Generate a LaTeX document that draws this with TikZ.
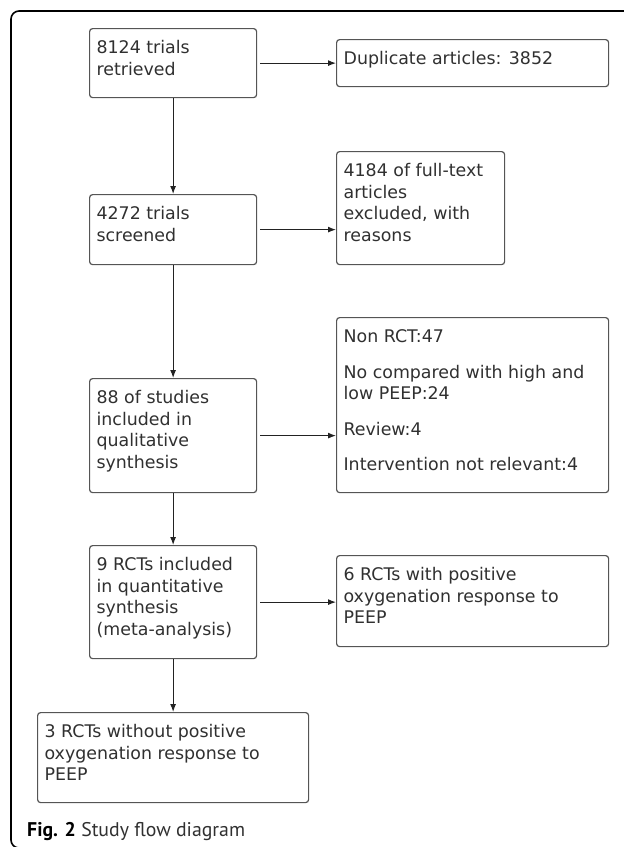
\documentclass[tikz,border=0pt]{standalone}
\usepackage{fontspec}
\setmainfont{DejaVu Sans}
\newfontfamily\capfont{PT Sans}
\usetikzlibrary{arrows.meta}
\definecolor{boxgray}{HTML}{555555}
\definecolor{txtgray}{HTML}{303030}
\definecolor{linegray}{HTML}{222222}
% text of a box: width, height, lines
\newcommand{\flowtext}[3]{\parbox[c][#2pt][t]{#1pt}{\vspace*{10pt}\hspace*{7pt}%
\parbox[t]{\dimexpr#1pt-14pt\relax}{\fontsize{17.4}{21.5}\selectfont
\setlength{\parskip}{14pt}\raggedright\strut #3}}}
\tikzset{
  flowbox/.style={draw=boxgray, line width=1.2pt, rounded corners=3pt,
    inner sep=0pt, anchor=north west, text=txtgray},
  flowarrow/.style={draw=linegray, line width=1.1pt, -{Latex[length=8pt,width=6pt]}},
  sidearrow/.style={flowarrow, shorten <=3pt}
}
\begin{document}
\begin{tikzpicture}[x=1pt,y=-1pt]
\useasboundingbox (0,0) rectangle (624,847);
% frame
\draw[line width=1.6pt, rounded corners=8pt] (640,11)--(11,11)--(11,848)--(40,848);
% main column
\node[flowbox] (retr) at (89,28) {\flowtext{167}{69}{8124 trials\\retrieved}};
\node[flowbox] (scrn) at (89,194) {\flowtext{167}{70}{4272 trials\\screened}};
\node[flowbox] (qual) at (89,378) {\flowtext{167}{114}{88 of studies\\included in\\qualitative\\synthesis}};
\node[flowbox] (quant) at (89,545) {\flowtext{167}{113}{9 RCTs included\\in quantitative\\synthesis\\(meta-analysis)}};
\node[flowbox] (neg) at (37,712) {\flowtext{271}{90}{3 RCTs without positive\\oxygenation response to\\PEEP}};
% side boxes
\node[flowbox] (dup) at (336,39) {\flowtext{272}{47}{Duplicate articles: 3852}};
\node[flowbox] (excl) at (336,151) {\flowtext{168}{113}{4184 of full-text\\articles\\excluded, with\\reasons}};
\node[flowbox] (reas) at (336,317) {\flowtext{272}{175}{Non RCT:47\par
No compared with high and\\low PEEP:24\par
Review:4\par
Intervention not relevant:4}};
\node[flowbox] (pos) at (336,555) {\flowtext{272}{91}{6 RCTs with positive\\oxygenation response to\\PEEP}};
% connectors
\draw[flowarrow] (retr.south)--(scrn.north);
\draw[flowarrow] (scrn.south)--(qual.north);
\draw[flowarrow] (qual.south)--(quant.north);
\draw[flowarrow] (quant.south)--(neg.north);
\draw[sidearrow] (retr.east)--(retr.east-|dup.west);
\draw[sidearrow] (scrn.east)--(scrn.east-|excl.west);
\draw[sidearrow] (qual.east)--(qual.east-|reas.west);
\draw[sidearrow] (quant.east)--(quant.east-|pos.west);
% caption
\node[anchor=base west, text=txtgray, inner sep=0pt] (cap) at (27,836)
  {\capfont\fontsize{19.8}{23}\selectfont\textbf{\color{black}Fig. 2} Study flow diagram};
\end{tikzpicture}
\end{document}
